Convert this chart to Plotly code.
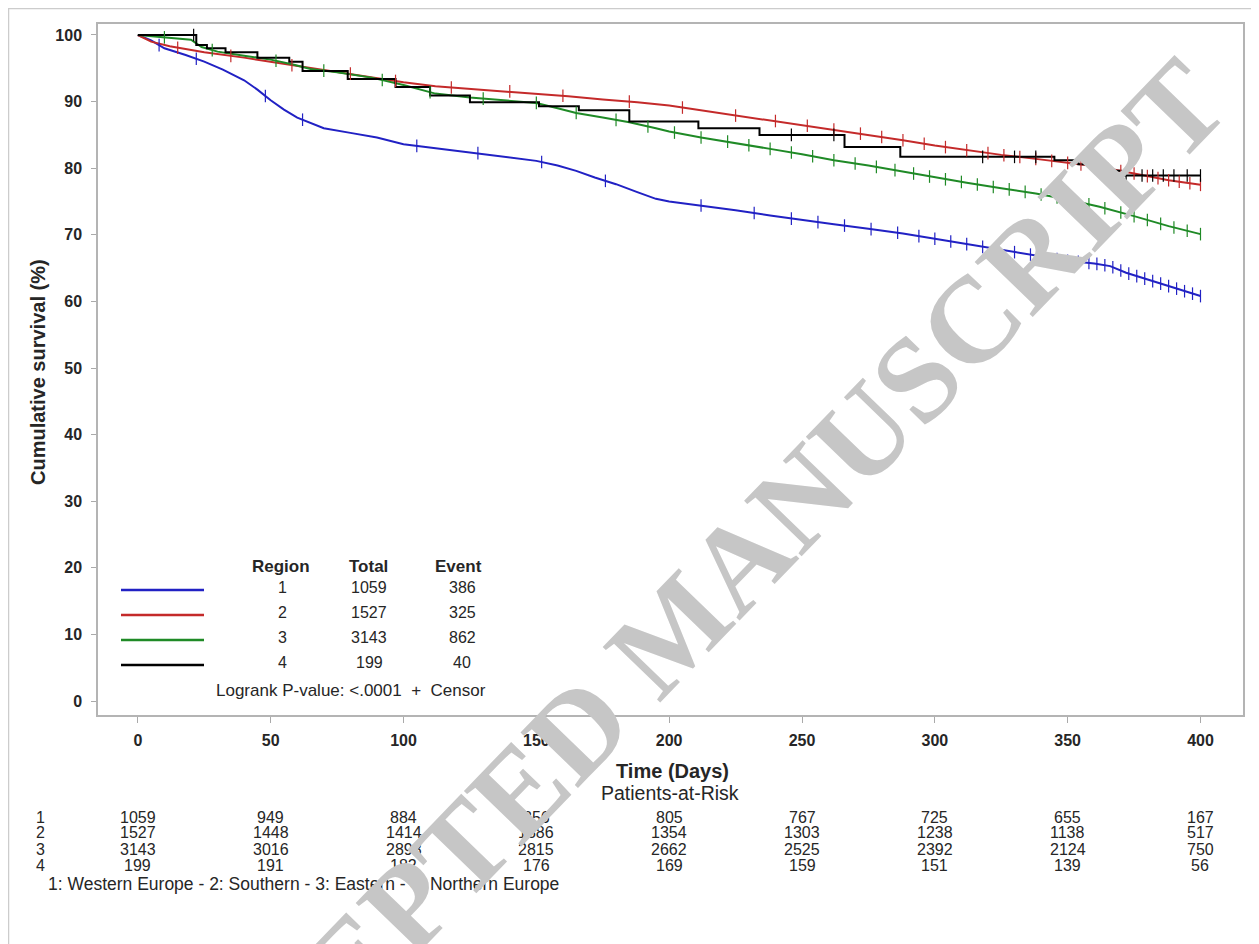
import numpy as np
import plotly.graph_objects as go

# ---------------- data ----------------
regions = ["1", "2", "3", "4"]
totals = [1059, 1527, 3143, 199]
events = [386, 325, 862, 40]

# Region 1 (Western Europe) - blue
t1 = [0, 5, 10, 18, 25, 32, 40, 45, 50, 55, 60, 65, 70, 80, 90, 100, 112, 125, 138, 150, 158,
      165, 172, 180, 188, 195, 200, 212, 225, 238, 250, 262, 275, 288, 300, 312, 325, 338, 350,
      360, 366, 372, 380, 388, 395, 400]
s1 = [100, 99.2, 98.0, 97.0, 96.0, 94.8, 93.2, 91.8, 90.2, 88.8, 87.6, 86.8, 86.0, 85.3, 84.6,
      83.6, 83.0, 82.4, 81.8, 81.1, 80.4, 79.6, 78.6, 77.6, 76.4, 75.4, 75.0, 74.4, 73.7, 72.9,
      72.2, 71.6, 70.9, 70.2, 69.4, 68.6, 67.7, 66.9, 66.1, 65.7, 65.3, 64.3, 63.3, 62.3, 61.4,
      60.8]
c1 = [8, 22, 48, 62, 105, 128, 152, 176, 212, 232, 246, 256, 266, 276, 286, 294, 300, 306, 312,
      318, 324, 330, 336, 341, 346, 350, 354, 358, 361, 364, 367, 370, 373, 376, 379, 382, 385,
      388, 391, 394, 397, 400]

# Region 2 (Southern) - red
t2 = [0, 5, 12, 25, 40, 50, 62, 75, 88, 100, 112, 125, 138, 150, 162, 175, 188, 200, 212, 225,
      238, 250, 262, 275, 288, 300, 312, 325, 338, 350, 362, 375, 388, 400]
s2 = [100, 99.0, 98.3, 97.4, 96.6, 96.0, 95.2, 94.5, 93.7, 92.9, 92.3, 91.9, 91.6, 91.2, 90.8,
      90.3, 89.9, 89.4, 88.7, 87.9, 87.2, 86.5, 85.8, 85.0, 84.2, 83.4, 82.7, 82.0, 81.4, 80.8,
      80.2, 79.2, 78.2, 77.5]
c2 = [15, 35, 58, 80, 97, 118, 140, 160, 185, 205, 225, 240, 252, 262, 272, 280, 288, 296, 304,
      312, 320, 326, 332, 338, 344, 350, 355, 360, 365, 370, 375, 380, 384, 388, 392, 396, 400]

# Region 3 (Eastern) - green
t3 = [0, 8, 15, 20, 24, 30, 40, 50, 58, 65, 75, 88, 100, 106, 112, 125, 138, 150, 158, 165, 175,
      185, 195, 200, 212, 225, 238, 250, 262, 275, 288, 300, 312, 325, 338, 350, 362, 375, 388,
      400]
s3 = [100, 99.7, 99.5, 99.3, 98.2, 97.5, 96.9, 96.3, 95.6, 94.9, 94.4, 93.6, 92.5, 91.8, 91.2,
      90.6, 90.2, 89.8, 89.0, 88.3, 87.6, 86.9, 86.0, 85.5, 84.6, 83.8, 82.9, 82.1, 81.2, 80.4,
      79.5, 78.6, 77.8, 77.0, 76.2, 75.3, 74.2, 72.8, 71.3, 70.1]
c3 = [10, 28, 52, 70, 92, 110, 130, 150, 165, 180, 192, 202, 212, 222, 230, 238, 246, 254, 262,
      270, 278, 285, 292, 298, 304, 310, 316, 322, 328, 334, 340, 346, 352, 358, 364, 370, 375,
      380, 385, 390, 395, 400]

# Region 4 (Northern Europe) - black
t4 = [0, 22, 26, 33, 45, 57, 62, 79, 97, 110, 125, 151, 166, 185, 211, 234, 266, 287, 345, 354,
      362, 370, 400]
s4 = [100, 98.5, 98.0, 97.4, 96.6, 96.0, 94.6, 93.4, 92.2, 90.9, 89.9, 89.3, 88.7, 87.0, 86.0,
      85.0, 83.2, 81.7, 81.2, 80.6, 79.6, 78.9, 78.9]
c4 = [21, 246, 262, 318, 330, 338, 372, 378, 382, 386, 390, 395, 400]

time_ticks = [0, 50, 100, 150, 200, 250, 300, 350, 400]
at_risk = {
    "1": [1059, 949, 884, 856, 805, 767, 725, 655, 167],
    "2": [1527, 1448, 1414, 1386, 1354, 1303, 1238, 1138, 517],
    "3": [3143, 3016, 2898, 2815, 2662, 2525, 2392, 2124, 750],
    "4": [199, 191, 182, 176, 169, 159, 151, 139, 56],
}
y_ticks = [0, 10, 20, 30, 40, 50, 60, 70, 80, 90, 100]

# ---------------- styling ----------------
OFF = 8                               # browser body margin
W, H = 1259 - OFF, 944 - OFF
PL, PR, PT, PB = 98, 1243, 24, 715    # plot box in page pixels
colors = ["#2121c4", "#c42a2a", "#1f8a26", "#000000"]
FONT = "Liberation Sans, Arial, sans-serif"
TXT = "#262626"


def px(x):
    return (x - PL) / (PR - PL)


def py(y):
    return (PB - y) / (PB - PT)


fig = go.Figure()
series = [(t1, s1, c1, False), (t2, s2, c2, False), (t3, s3, c3, False), (t4, s4, c4, True)]
for i, (t, s, c, stepped) in enumerate(series):
    fig.add_trace(go.Scatter(x=t, y=s, mode="lines",
                             line=dict(color=colors[i], width=2,
                                       shape="hv" if stepped else "linear"),
                             hoverinfo="skip", showlegend=False))
for i, (t, s, c, stepped) in enumerate(series):
    if stepped:
        idx = np.searchsorted(np.array(t), np.array(c), side="right") - 1
        cy = np.array(s)[idx]
    else:
        cy = np.interp(c, t, s)
    fig.add_trace(go.Scatter(x=c, y=cy, mode="markers",
                             marker=dict(symbol="line-ns-open", size=9, color=colors[i],
                                         line=dict(color=colors[i], width=1.2)),
                             hoverinfo="skip", showlegend=False))

ann = []
shapes = []

# legend block inside plot
leg_rows = [590, 615, 640, 665]
for i, yy in enumerate(leg_rows):
    shapes.append(dict(type="line", xref="paper", yref="paper", x0=px(121), x1=px(204),
                       y0=py(yy), y1=py(yy), line=dict(color=colors[i], width=2.5)))
    for val, xx in [(regions[i], 282), (str(totals[i]), 369), (str(events[i]), 462)]:
        ann.append(dict(text=val, x=px(xx), y=py(yy - 3), xref="paper", yref="paper",
                        showarrow=False, xanchor="center", yanchor="middle",
                        font=dict(size=16, color=TXT, family=FONT)))
for lbl, xx in [("Region", 281), ("Total", 368), ("Event", 458)]:
    ann.append(dict(text="<b>%s</b>" % lbl, x=px(xx), y=py(566), xref="paper", yref="paper",
                    showarrow=False, xanchor="center", yanchor="middle",
                    font=dict(size=17, color=TXT, family=FONT)))
ann.append(dict(text="Logrank P-value: <.0001  +  Censor", x=px(351), y=py(690),
                xref="paper", yref="paper", showarrow=False, xanchor="center",
                yanchor="middle", font=dict(size=17, color=TXT, family=FONT)))

# axis titles
ann.append(dict(text="<b>Cumulative survival (%)</b>", x=px(38), y=py(372), xref="paper",
                yref="paper", showarrow=False, textangle=-90, xanchor="center",
                yanchor="middle", font=dict(size=20, color=TXT, family=FONT)))
ann.append(dict(text="<b>Time (Days)</b>", x=px(672), y=py(771), xref="paper", yref="paper",
                showarrow=False, xanchor="center", yanchor="middle",
                font=dict(size=20, color=TXT, family=FONT)))
ann.append(dict(text="Patients-at-Risk", x=px(670), y=py(793), xref="paper", yref="paper",
                showarrow=False, xanchor="center", yanchor="middle",
                font=dict(size=19.5, color=TXT, family=FONT)))

# at-risk table
risk_rows = [817, 833, 849, 865]
for r, yy in zip(regions, risk_rows):
    ann.append(dict(text=r, x=px(40), y=py(yy), xref="paper", yref="paper", showarrow=False,
                    xanchor="center", yanchor="middle",
                    font=dict(size=16, color=TXT, family=FONT)))
    for tt, v in zip(time_ticks, at_risk[r]):
        ann.append(dict(text=str(v), x=tt, y=py(yy), xref="x", yref="paper",
                        showarrow=False, xanchor="center", yanchor="middle",
                        font=dict(size=16, color=TXT, family=FONT)))
ann.append(dict(text="1: Western Europe - 2: Southern - 3: Eastern - 4: Northern Europe",
                x=px(46), y=py(884), xref="paper", yref="paper", showarrow=False,
                xanchor="left", yanchor="middle",
                font=dict(size=17.5, color=TXT, family=FONT)))

# watermark
ann.append(dict(text="<b>ACCEPTED MANUSCRIPT</b>", x=px(672), y=py(630), xref="paper",
                yref="paper", showarrow=False, textangle=-46, xanchor="center",
                yanchor="middle",
                font=dict(size=122, color="#c6c6c6", family="Liberation Serif, serif")))

# outer frame
shapes.append(dict(type="rect", xref="paper", yref="paper", x0=px(8.5), x1=px(1252),
                   y0=py(980), y1=py(8.5), line=dict(color="#cccccc", width=1.5),
                   layer="below"))

fig.update_layout(
    width=W, height=H,
    margin=dict(l=PL - OFF, r=W + OFF - PR, t=PT - OFF, b=H + OFF - PB),
    paper_bgcolor="white", plot_bgcolor="white",
    showlegend=False,
    annotations=ann, shapes=shapes,
    xaxis=dict(range=[-15, 416], tickvals=time_ticks, ticks="outside", ticklen=6,
               tickcolor="#aaaaaa", showgrid=False, zeroline=False, showline=True,
               linecolor="#b4b4b4", linewidth=1.5, mirror=True, ticklabelstandoff=4,
               tickfont=dict(size=16, color=TXT, family=FONT, weight="bold")),
    yaxis=dict(range=[-2.1, 101.65], tickvals=y_ticks, ticks="outside", ticklen=5,
               tickcolor="#aaaaaa", showgrid=False, zeroline=False, showline=True,
               linecolor="#b4b4b4", linewidth=1.5, mirror=True, ticklabelstandoff=6,
               tickfont=dict(size=16, color=TXT, family=FONT, weight="bold")),
)

fig.write_html("out.html")
